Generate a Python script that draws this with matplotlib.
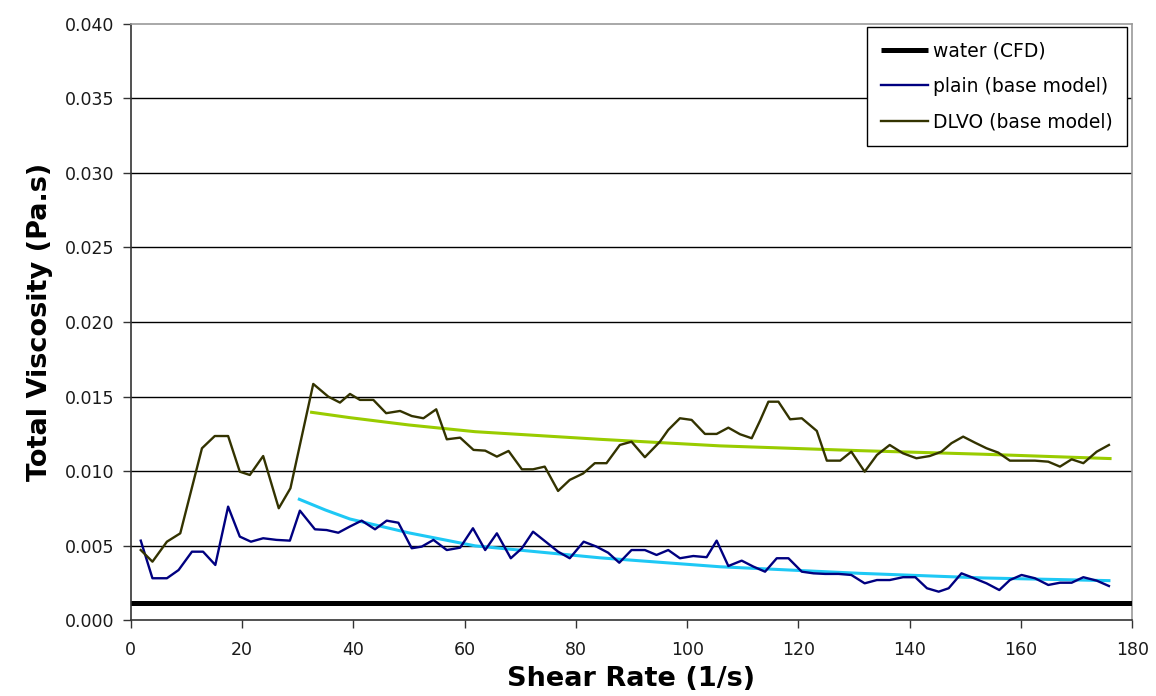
import matplotlib
matplotlib.use("Agg")
import matplotlib.pyplot as plt

plt.rcParams['font.family'] = ['DejaVu Sans']

# Simulated total viscosity vs shear rate
water_x = [0, 180]
water_y = [0.00115, 0.00115]

plain_x = [1.8, 3.9, 6.5, 8.6, 11.0, 13.0, 15.2, 17.5, 19.6, 21.6, 23.8, 26.2, 28.6,
           30.4, 33.1, 35.2, 37.3, 39.4, 41.5, 43.9, 46.0, 48.1, 50.5, 52.3, 54.4,
           56.8, 59.2, 61.5, 63.7, 65.8, 68.3, 70.3, 72.3, 74.8, 76.8, 78.9, 81.4,
           83.7, 85.8, 87.8, 90.0, 92.4, 94.5, 96.6, 98.7, 101.1, 103.5, 105.3,
           107.4, 109.8, 111.9, 114.0, 116.1, 118.2, 120.6, 122.7, 124.8, 127.2,
           129.5, 131.9, 134.1, 136.4, 138.8, 141.0, 143.1, 145.2, 147.0, 149.3,
           151.1, 153.8, 156.1, 158.0, 160.1, 162.5, 164.9, 167.0, 169.1, 171.2,
           173.6, 175.8]
plain_y = [0.00535, 0.00283, 0.00283, 0.00338, 0.00461, 0.00461, 0.00372, 0.00763,
           0.00562, 0.00528, 0.00551, 0.00540, 0.00535, 0.00736, 0.00611, 0.00606,
           0.00588, 0.00630, 0.00669, 0.00611, 0.00669, 0.00655, 0.00484, 0.00495,
           0.00540, 0.00472, 0.00488, 0.00618, 0.00472, 0.00584, 0.00417, 0.00484,
           0.00595, 0.00521, 0.00461, 0.00417, 0.00528, 0.00495, 0.00454, 0.00387,
           0.00472, 0.00472, 0.00439, 0.00472, 0.00417, 0.00432, 0.00424, 0.00535,
           0.00365, 0.00401, 0.00361, 0.00327, 0.00417, 0.00417, 0.00327, 0.00316,
           0.00312, 0.00312, 0.00305, 0.00249, 0.00271, 0.00271, 0.00290, 0.00290,
           0.00216, 0.00193, 0.00216, 0.00316, 0.00290, 0.00249, 0.00204, 0.00271,
           0.00305, 0.00283, 0.00238, 0.00253, 0.00253, 0.00290, 0.00267, 0.00231]

dlvo_x = [1.8, 3.9, 6.5, 8.9, 12.8, 15.1, 17.5, 19.6, 21.4, 23.8, 26.6, 28.7, 32.8,
          35.5, 37.6, 39.4, 41.2, 43.6, 45.9, 48.4, 50.5, 52.6, 54.9, 56.8, 59.2,
          61.6, 63.7, 65.8, 67.9, 70.3, 72.3, 74.4, 76.8, 78.9, 81.3, 83.4, 85.5,
          87.9, 90.0, 92.4, 95.1, 96.6, 98.7, 100.8, 103.2, 105.3, 107.4, 109.5,
          111.6, 113.1, 114.6, 116.4, 118.5, 120.6, 123.3, 125.1, 127.5, 129.5,
          131.9, 134.1, 136.4, 138.8, 141.2, 143.6, 145.7, 147.5, 149.6, 151.7,
          153.8, 155.9, 158.0, 160.4, 162.5, 164.9, 167.0, 169.1, 171.2, 173.6,
          175.8]
dlvo_y = [0.00472, 0.00394, 0.00528, 0.00584, 0.01154, 0.01236, 0.01236, 0.00997,
          0.00975, 0.01102, 0.00752, 0.00886, 0.01585, 0.01500, 0.01460, 0.01518,
          0.01478, 0.01478, 0.01389, 0.01404, 0.01370, 0.01355, 0.01415, 0.01214,
          0.01225, 0.01143, 0.01138, 0.01098, 0.01136, 0.01013, 0.01013, 0.01031,
          0.00868, 0.00942, 0.00985, 0.01054, 0.01054, 0.01176, 0.01198, 0.01094,
          0.01198, 0.01277, 0.01355, 0.01344, 0.01250, 0.01250, 0.01292, 0.01248,
          0.01221, 0.01339, 0.01466, 0.01466, 0.01348, 0.01355, 0.01270, 0.01071,
          0.01071, 0.01131, 0.00997, 0.01109, 0.01176, 0.01120, 0.01087, 0.01102,
          0.01131, 0.01188, 0.01232, 0.01192, 0.01154, 0.01125, 0.01071, 0.01071,
          0.01071, 0.01064, 0.01031, 0.01080, 0.01054, 0.01131, 0.01176]

# trend curves
plain_fit_x = [30.3, 35.0, 39.4, 50.0, 61.9, 84.3, 105.9, 131.0, 153.2, 175.8]
plain_fit_y = [0.00812, 0.00740, 0.00680, 0.00587, 0.00500, 0.00420, 0.00360,
               0.00316, 0.00285, 0.00267]
dlvo_fit_x = [32.5, 39.4, 50.0, 61.9, 84.3, 105.9, 131.0, 153.2, 176.0]
dlvo_fit_y = [0.01395, 0.01359, 0.01310, 0.01265, 0.01214, 0.01170, 0.01138,
              0.01114, 0.01085]

y_ticks = [0.000, 0.005, 0.010, 0.015, 0.020, 0.025, 0.030, 0.035, 0.040]
x_ticks = [0, 20, 40, 60, 80, 100, 120, 140, 160, 180]

fig = plt.figure(figsize=(11.56, 6.96), dpi=100)
ax = fig.add_axes([0.1131, 0.1085, 0.8664, 0.8577])

for yv in y_ticks[1:-1]:
    ax.axhline(yv, color='black', lw=1.0, zorder=1)

ax.plot(water_x, water_y, color='black', lw=3.6, solid_capstyle='butt',
        label='water (CFD)', zorder=3)
ax.plot(plain_x, plain_y, color='#000080', lw=1.7, label='plain (base model)', zorder=3)
ax.plot(dlvo_x, dlvo_y, color='#333300', lw=1.7, label='DLVO (base model)', zorder=3)
ax.plot(plain_fit_x, plain_fit_y, color='#1EC8F5', lw=2.2, zorder=2)
ax.plot(dlvo_fit_x, dlvo_fit_y, color='#99CC00', lw=2.2, zorder=2)

ax.set_xlim(0, 180)
ax.set_ylim(0, 0.04)
ax.set_xticks(x_ticks)
ax.set_yticks(y_ticks)
ax.set_yticklabels([f'{v:.3f}' for v in y_ticks])
ax.tick_params(axis='both', direction='out', length=6, width=1, labelsize=12.5,
               color='#333333', labelcolor='#1a1a1a')
ax.tick_params(axis='x', pad=9)
ax.tick_params(axis='y', pad=6)

for side in ['top', 'right']:
    ax.spines[side].set_color('#999999')
    ax.spines[side].set_linewidth(1.2)
for side in ['left', 'bottom']:
    ax.spines[side].set_color('#333333')
    ax.spines[side].set_linewidth(1.2)

ax.set_xlabel('Shear Rate (1/s)', fontsize=19.5, fontweight='bold', labelpad=5)
ax.set_ylabel('Total Viscosity (Pa.s)', fontsize=19.5, fontweight='bold', labelpad=8)

leg = ax.legend(loc='upper right', bbox_to_anchor=(0.9947, 0.9941), fontsize=13.5,
                frameon=True, fancybox=False, edgecolor='black', framealpha=1,
                handlelength=2.55, handletextpad=0.25, labelspacing=0.9,
                borderpad=0.75, borderaxespad=0)
leg.get_frame().set_linewidth(1.0)

fig.savefig('out.png', dpi=100, facecolor='white')
